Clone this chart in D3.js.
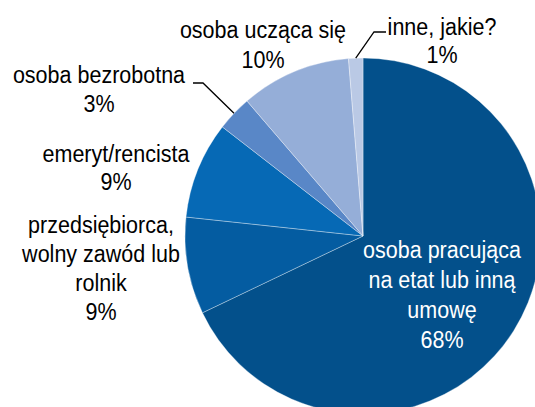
<!DOCTYPE html>
<html>
<head>
<meta charset="utf-8">
<script src="https://cdn.jsdelivr.net/npm/d3@7"></script>
<style>
  html, body { margin: 0; padding: 0; background: #fff; }
  svg { display: block; }
  text { font-family: "Liberation Sans", Arial, sans-serif; font-size: 24.5px; }
</style>
</head>
<body>
<svg id="chart" width="535" height="407"></svg>
<script>
// Data
const categories = [
  ['osoba pracująca', 'na etat lub inną', 'umowę'],
  ['przedsiębiorca,', 'wolny zawód lub', 'rolnik'],
  ['emeryt/rencista'],
  ['osoba bezrobotna'],
  ['osoba ucząca się'],
  ['inne, jakie?']
];
const values = [67.9, 8.8, 8.8, 3.2, 10.0, 1.3];
const colors = ['#03508b', '#045ca1', '#0669b5', '#5987c7', '#95aed8', '#bac9e5'];

// Layout
const width = 535, height = 407;
const cx = 363, cy = 236, radius = 178;
const textSquash = 0.878; // labels in the original are horizontally condensed

// label placement: x centre, first baseline, line step, text colour, leader elbow
const labelLayout = [
  { x: 442, y: 258, step: 30, fill: '#fff' },
  { x: 101, y: 233, step: 29, fill: '#000' },
  { x: 116, y: 162, step: 28.5, fill: '#000' },
  { x: 99, y: 83, step: 29, fill: '#000', leader: [[193, 83], [203, 83]] },
  { x: 263, y: 38, step: 30, fill: '#000' },
  { x: 442, y: 35, step: 28, fill: '#000', leader: [[386, 32], [374, 32]] }
];

const svg = d3.select('#chart');
const g = svg.append('g').attr('transform', `translate(${cx},${cy})`);

const pie = d3.pie().sort(null).value(d => d);
const arcs = pie(values);
const arc = d3.arc().innerRadius(0).outerRadius(radius);

g.selectAll('path.slice')
  .data(arcs)
  .enter()
  .append('path')
  .attr('class', 'slice')
  .attr('d', arc)
  .attr('fill', (d, i) => colors[i])
  .attr('stroke', '#ffffff')
  .attr('stroke-opacity', 0.45)
  .attr('stroke-width', 0.75);

// Leader lines to the outer edge of small slices
const line = d3.line();
arcs.forEach((a, i) => {
  const lay = labelLayout[i];
  if (!lay.leader) return;
  const mid = (a.startAngle + a.endAngle) / 2;
  const end = [cx + radius * Math.sin(mid), cy - radius * Math.cos(mid)];
  svg.append('path')
    .attr('d', line([...lay.leader, end]))
    .attr('fill', 'none')
    .attr('stroke', '#000')
    .attr('stroke-width', 1.3);
});

// Labels
arcs.forEach((a, i) => {
  const lay = labelLayout[i];
  const lines = [...categories[i], `${Math.round(values[i])}%`];
  const t = svg.append('text')
    .attr('text-anchor', 'middle')
    .attr('transform', `translate(${lay.x},0) scale(${textSquash},1)`)
    .attr('fill', lay.fill);
  lines.forEach((s, j) => {
    t.append('tspan')
      .attr('x', 0)
      .attr('y', lay.y + j * lay.step)
      .text(s);
  });
});
</script>
</body>
</html>
